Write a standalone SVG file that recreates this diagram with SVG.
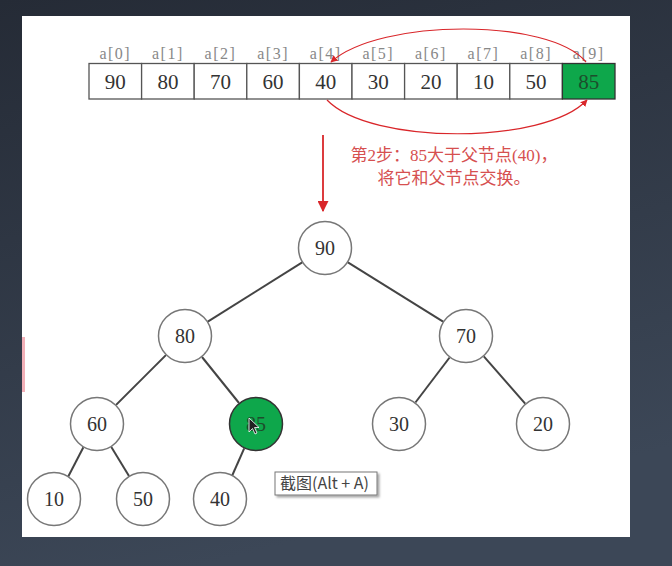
<svg xmlns="http://www.w3.org/2000/svg" width="672" height="566" viewBox="0 0 672 566">
<defs>
<linearGradient id="bg" x1="0" y1="0" x2="0.3" y2="1">
<stop offset="0" stop-color="#252b36"/>
<stop offset="1" stop-color="#3c4757"/>
</linearGradient>
<marker id="ah" viewBox="0 0 10 10" refX="9" refY="5" markerWidth="7" markerHeight="7" orient="auto" markerUnits="userSpaceOnUse">
<path d="M0,0 L10,5 L0,10 z" fill="#d9262a"/>
</marker>
<marker id="ah2" viewBox="0 0 10 10" refX="9" refY="5" markerWidth="11" markerHeight="11" orient="auto" markerUnits="userSpaceOnUse">
<path d="M0,0 L10,5 L0,10 z" fill="#d9262a"/>
</marker>
<filter id="sh" x="-10%" y="-10%" width="130%" height="150%">
<feDropShadow dx="2" dy="2" stdDeviation="1.2" flood-color="#000" flood-opacity="0.35"/>
</filter>
<style>
.cell{fill:#fff;stroke:#555;stroke-width:1.3}
.cellg{fill:#0ea74b;stroke:#333;stroke-width:1.3}
.lbl{font-family:"Liberation Serif","DejaVu Serif",serif;font-size:16px;fill:#888;text-anchor:middle;letter-spacing:1.5px}
.num{font-family:"Liberation Serif","DejaVu Serif",serif;font-size:21px;fill:#333;text-anchor:middle}
.node circle{fill:#fff;stroke:#777;stroke-width:1.5}
.node text{font-family:"Liberation Serif","DejaVu Serif",serif;font-size:20px;fill:#333;text-anchor:middle}
.edge{stroke:#444;stroke-width:2;fill:none}
.red{stroke:#d9262a;fill:none}
.note{font-family:"Liberation Serif","Noto Sans CJK SC",serif;font-size:17px;fill:#d65050;text-anchor:middle}
</style>
</defs>
<rect width="672" height="566" fill="url(#bg)"/>
<rect x="22" y="16" width="608" height="521" fill="#fff"/>
<rect x="22" y="337" width="3" height="55" fill="#f2b0b8"/>

<g id="array">
<text class="lbl" x="115.3" y="59">a[0]</text>
<text class="lbl" x="167.9" y="59">a[1]</text>
<text class="lbl" x="220.5" y="59">a[2]</text>
<text class="lbl" x="273.1" y="59">a[3]</text>
<text class="lbl" x="325.7" y="59">a[4]</text>
<text class="lbl" x="378.3" y="59">a[5]</text>
<text class="lbl" x="430.9" y="59">a[6]</text>
<text class="lbl" x="483.5" y="59">a[7]</text>
<text class="lbl" x="536.1" y="59">a[8]</text>
<text class="lbl" x="588.7" y="59">a[9]</text>
<rect class="cell" x="89" y="63.5" width="52.6" height="35.5"/>
<rect class="cell" x="141.6" y="63.5" width="52.6" height="35.5"/>
<rect class="cell" x="194.2" y="63.5" width="52.6" height="35.5"/>
<rect class="cell" x="246.8" y="63.5" width="52.6" height="35.5"/>
<rect class="cell" x="299.4" y="63.5" width="52.6" height="35.5"/>
<rect class="cell" x="352" y="63.5" width="52.6" height="35.5"/>
<rect class="cell" x="404.6" y="63.5" width="52.6" height="35.5"/>
<rect class="cell" x="457.2" y="63.5" width="52.6" height="35.5"/>
<rect class="cell" x="509.8" y="63.5" width="52.6" height="35.5"/>
<rect class="cellg" x="562.4" y="63.5" width="52.6" height="35.5"/>
<text class="num" x="115.3" y="88.5">90</text>
<text class="num" x="167.9" y="88.5">80</text>
<text class="num" x="220.5" y="88.5">70</text>
<text class="num" x="273.1" y="88.5">60</text>
<text class="num" x="325.7" y="88.5">40</text>
<text class="num" x="378.3" y="88.5">30</text>
<text class="num" x="430.9" y="88.5">20</text>
<text class="num" x="483.5" y="88.5">10</text>
<text class="num" x="536.1" y="88.5">50</text>
<text class="num" x="588.7" y="88.5" style="fill:#1d4d2c">85</text>
</g>

<g id="connectors">
<path class="red" stroke-width="1.2" d="M586,62 C550,18 380,18 331,62" marker-end="url(#ah)"/>
<path class="red" stroke-width="1.2" d="M327,100 C370,145 545,145 587,100" marker-end="url(#ah)"/>
<line class="red" stroke-width="1.8" x1="323" y1="135" x2="323" y2="211" marker-end="url(#ah2)"/>
<line class="edge" x1="302.2" y1="262.4" x2="207.8" y2="321.6"/>
<line class="edge" x1="347.9" y1="262.3" x2="443.1" y2="321.7"/>
<line class="edge" x1="165.9" y1="355.1" x2="116.1" y2="404.9"/>
<line class="edge" x1="202" y1="357" x2="239" y2="403"/>
<line class="edge" x1="449.6" y1="357.5" x2="415.4" y2="402.5"/>
<line class="edge" x1="483.8" y1="356.3" x2="525.2" y2="403.7"/>
<line class="edge" x1="83.4" y1="447.3" x2="68" y2="477"/>
<line class="edge" x1="111.3" y1="446.9" x2="129" y2="476"/>
<line class="edge" x1="244.2" y1="448.3" x2="232" y2="476"/>
</g>

<g id="note">
<text class="note" x="454" y="161">第2步：85大于父节点(40)，</text>
<text class="note" x="454" y="184">将它和父节点交换。</text>
</g>

<g id="n90" class="node"><circle cx="325" cy="248" r="26.5"/><text x="325" y="255">90</text></g>
<g id="n80" class="node"><circle cx="185" cy="336" r="26.5"/><text x="185" y="343">80</text></g>
<g id="n70" class="node"><circle cx="466" cy="336" r="26.5"/><text x="466" y="343">70</text></g>
<g id="n60" class="node"><circle cx="97" cy="424" r="26.5"/><text x="97" y="431">60</text></g>
<g id="n85" class="node"><circle cx="256" cy="424" r="26.5" style="fill:#0ea74b;stroke:#333"/><text x="256" y="431" style="fill:#1d4d2c">85</text></g>
<g id="n30" class="node"><circle cx="399" cy="424" r="26.5"/><text x="399" y="431">30</text></g>
<g id="n20" class="node"><circle cx="543" cy="424" r="26.5"/><text x="543" y="431">20</text></g>
<g id="n10" class="node"><circle cx="54" cy="499" r="26.5"/><text x="54" y="506">10</text></g>
<g id="n50" class="node"><circle cx="143" cy="499" r="26.5"/><text x="143" y="506">50</text></g>
<g id="n40" class="node"><circle cx="220" cy="499" r="26.5"/><text x="220" y="506">40</text></g>

<g id="cursor">
<path d="M249,418 L249,432 L252.5,428.5 L255,434 L257,433 L254.5,427.5 L259,427.5 Z" fill="#222" stroke="#fff" stroke-width="0.8"/>
</g>

<g id="tooltip">
<rect x="275" y="472" width="102" height="23" fill="#fff" stroke="#777" stroke-width="1" filter="url(#sh)"/>
<text x="280" y="489" font-family="'Noto Sans CJK SC','Noto Sans',sans-serif" font-size="16" fill="#444">截图(Alt + A)</text>
</g>
</svg>
